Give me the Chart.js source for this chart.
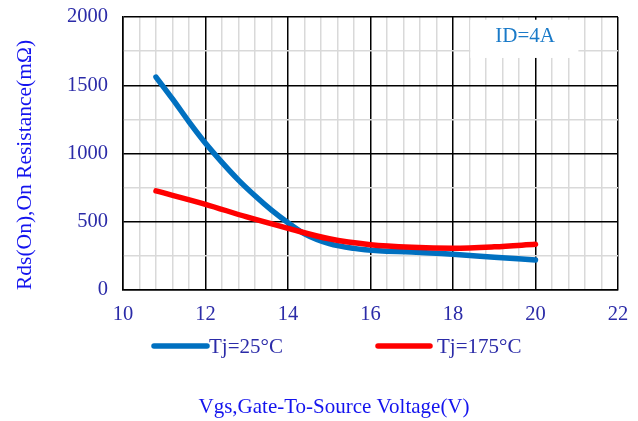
<!DOCTYPE html>
<html>
<head>
<meta charset="utf-8">
<script src="https://cdn.jsdelivr.net/npm/chart.js@4.4.1/dist/chart.umd.min.js"></script>
<style>
  html, body { margin: 0; padding: 0; background: #fff; }
  #wrap { width: 638px; height: 421px; position: relative; }
</style>
</head>
<body>
<div id="wrap"><canvas id="chartRds"></canvas></div>
<script>
// Rds(on) vs Vgs, ID = 4A
const vgs25 = [10.8, 11.2, 11.6, 12, 12.4, 12.8, 13.2, 13.6, 14, 14.4, 15, 15.6, 16.2, 17, 18, 19, 20];
const rds25 = [1560, 1400, 1232, 1075, 935, 805, 690, 585, 493, 412, 340, 305, 287, 279, 262, 240, 220];
const vgs175 = [10.8, 12, 13, 14, 15, 16, 17, 18, 19, 20];
const rds175 = [726, 628, 535, 452, 375, 332, 313, 306, 316, 335];
const seriesLabels = ['Tj=25°C', 'Tj=175°C'];
const seriesColors = ['#0070c0', '#ff0000'];
const xTitle = 'Vgs,Gate-To-Source Voltage(V)';
const yTitle = 'Rds(On),On Resistance(mΩ)';
const noteText = 'ID=4A';

const FONT = 'Liberation Serif';
const TICK_COLOR = '#2b2ba8';
const TITLE_COLOR = '#1414ee';

const isMajor = (v, step) => Math.abs(v / step - Math.round(v / step)) < 1e-6;
const toXY = (xs, ys) => xs.map((x, i) => ({ x, y: ys[i] }));

// legend, x title and the ID note box
const extras = {
  id: 'extras',
  beforeDatasetsDraw(chart) {
    const { ctx, scales: { x, y } } = chart;
    const l = x.getPixelForValue(18.42), r = x.getPixelForValue(21.04);
    const t = y.getPixelForValue(1980), b = y.getPixelForValue(1700);
    ctx.save();
    ctx.fillStyle = '#fff';
    ctx.fillRect(l, t, r - l, b - t);
    ctx.fillStyle = '#1a7ac8';
    ctx.font = `21px "${FONT}"`;
    ctx.textAlign = 'center';
    ctx.textBaseline = 'middle';
    ctx.fillText(noteText, x.getPixelForValue(19.75), y.getPixelForValue(1855));
    ctx.restore();
  },
  afterDraw(chart) {
    const { ctx } = chart;
    ctx.save();
    ctx.font = `21px "${FONT}"`;
    ctx.textBaseline = 'middle';
    const items = [{ x0: 154, x1: 207, tx: 209 }, { x0: 378, x1: 430, tx: 437 }];
    items.forEach((it, i) => {
      ctx.strokeStyle = seriesColors[i];
      ctx.lineWidth = 5.5;
      ctx.lineCap = 'round';
      ctx.beginPath();
      ctx.moveTo(it.x0, 346);
      ctx.lineTo(it.x1, 346);
      ctx.stroke();
      ctx.fillStyle = TICK_COLOR;
      ctx.textAlign = 'left';
      ctx.fillText(seriesLabels[i], it.tx, 347);
    });
    ctx.fillStyle = TITLE_COLOR;
    ctx.textAlign = 'center';
    ctx.fillText(xTitle, 334, 407);
    ctx.restore();
  }
};

new Chart(document.getElementById('chartRds'), {
  type: 'line',
  data: {
    datasets: [
      {
        label: seriesLabels[0],
        data: toXY(vgs25, rds25),
        borderColor: seriesColors[0],
        borderWidth: 5.5,
        borderCapStyle: 'round',
        pointRadius: 0,
        cubicInterpolationMode: 'monotone',
        order: 1,
      },
      {
        label: seriesLabels[1],
        data: toXY(vgs175, rds175),
        borderColor: seriesColors[1],
        borderWidth: 5.5,
        borderCapStyle: 'round',
        pointRadius: 0,
        cubicInterpolationMode: 'monotone',
        order: 0,
      },
    ],
  },
  options: {
    responsive: true,
    maintainAspectRatio: false,
    animation: false,
    layout: { padding: { top: 17, right: 20, bottom: 99, left: 0 } },
    plugins: { legend: { display: false }, tooltip: { enabled: false } },
    scales: {
      x: {
        type: 'linear',
        min: 10,
        max: 22,
        afterFit: s => { s.height = 32; s.paddingLeft = 0; s.paddingRight = 0; },
        border: { color: '#000', width: 1.5 },
        grid: {
          drawTicks: false,
          lineWidth: 1.5,
          color: c => isMajor(c.tick.value, 2) ? '#000' : '#d9d9d9',
        },
        ticks: {
          stepSize: 0.4,
          autoSkip: false,
          maxRotation: 0,
          padding: 12,
          color: TICK_COLOR,
          font: { family: FONT, size: 20.5 },
          callback: v => isMajor(v, 2) ? Math.round(v) : '',
        },
      },
      y: {
        min: 0,
        max: 2000,
        afterFit: s => { s.width = 123; s.paddingTop = 0; s.paddingBottom = 0; },
        border: { color: '#000', width: 1.5 },
        grid: {
          drawTicks: false,
          lineWidth: 1.5,
          color: c => isMajor(c.tick.value, 500) ? '#000' : '#d9d9d9',
        },
        ticks: {
          stepSize: 250,
          padding: 15,
          color: TICK_COLOR,
          font: { family: FONT, size: 20.5 },
          callback: v => isMajor(v, 500) ? v : '',
        },
        title: {
          display: true,
          text: yTitle,
          align: 'start',
          color: TITLE_COLOR,
          font: { family: FONT, size: 21.5 },
          padding: { top: 12, bottom: 0 },
        },
      },
    },
  },
  plugins: [extras],
});
</script>
</body>
</html>
